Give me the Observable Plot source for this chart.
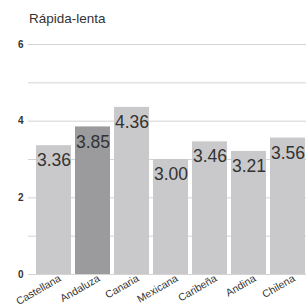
<!DOCTYPE html>
<html><head><meta charset="utf-8">
<script src="https://cdn.jsdelivr.net/npm/d3@7"></script>
<script src="https://cdn.jsdelivr.net/npm/@observablehq/plot@0.6"></script>
<style>
body{margin:0;background:#fff;font-family:"Liberation Sans",Arial,sans-serif;}
#title{height:32px;position:relative;}
#title span{position:absolute;left:29px;top:11px;font-size:13.5px;color:#333;}
svg{display:block;}
</style></head><body>
<div id="title"><span>Rápida-lenta</span></div>
<div id="chart"></div>
<script>
const categories = ["Castellana","Andaluza","Canaria","Mexicana","Caribeña","Andina","Chilena"];
const values = [3.36, 3.85, 4.36, 3.00, 3.46, 3.21, 3.56];
const highlight = "Andaluza";
const yTicks = [0, 2, 4, 6];
const gridValues = [0, 1, 2, 3, 4, 5, 6];

const data = categories.map((c, i) => ({cat: c, v: values[i]}));

const chart = Plot.plot({
  width: 306,
  height: 276,
  marginLeft: 28,
  marginRight: 0,
  marginTop: 12,
  marginBottom: 34,
  style: {fontFamily: '"Liberation Sans", Arial, sans-serif', color: "#333", background: "#fff"},
  x: {domain: categories, range: [30, 311], padding: 0.1, label: null},
  y: {domain: [0, 6], label: null},
  marks: [
    Plot.ruleY(gridValues, {stroke: "#d4d4d4", strokeWidth: 1}),
    Plot.barY(data, {x: "cat", y: "v", fill: d => d.cat === highlight ? "#9b9b9d" : "#c9c9cb"}),
    Plot.text(data, {x: "cat", y: "v", text: d => d.v.toFixed(2), dy: 15, fontSize: 17.5, fill: "#333"}),
    Plot.axisY({ticks: yTicks, tickFormat: d3.format("d"), tickSize: 0, tickPadding: 5, fontSize: 10, fontWeight: "bold", label: null}),
    Plot.axisX({tickSize: 0, tickRotate: -30, tickPadding: 3, fontSize: 10.5, dx: 6, label: null})
  ]
});
document.getElementById("chart").appendChild(chart);
</script>
</body></html>
